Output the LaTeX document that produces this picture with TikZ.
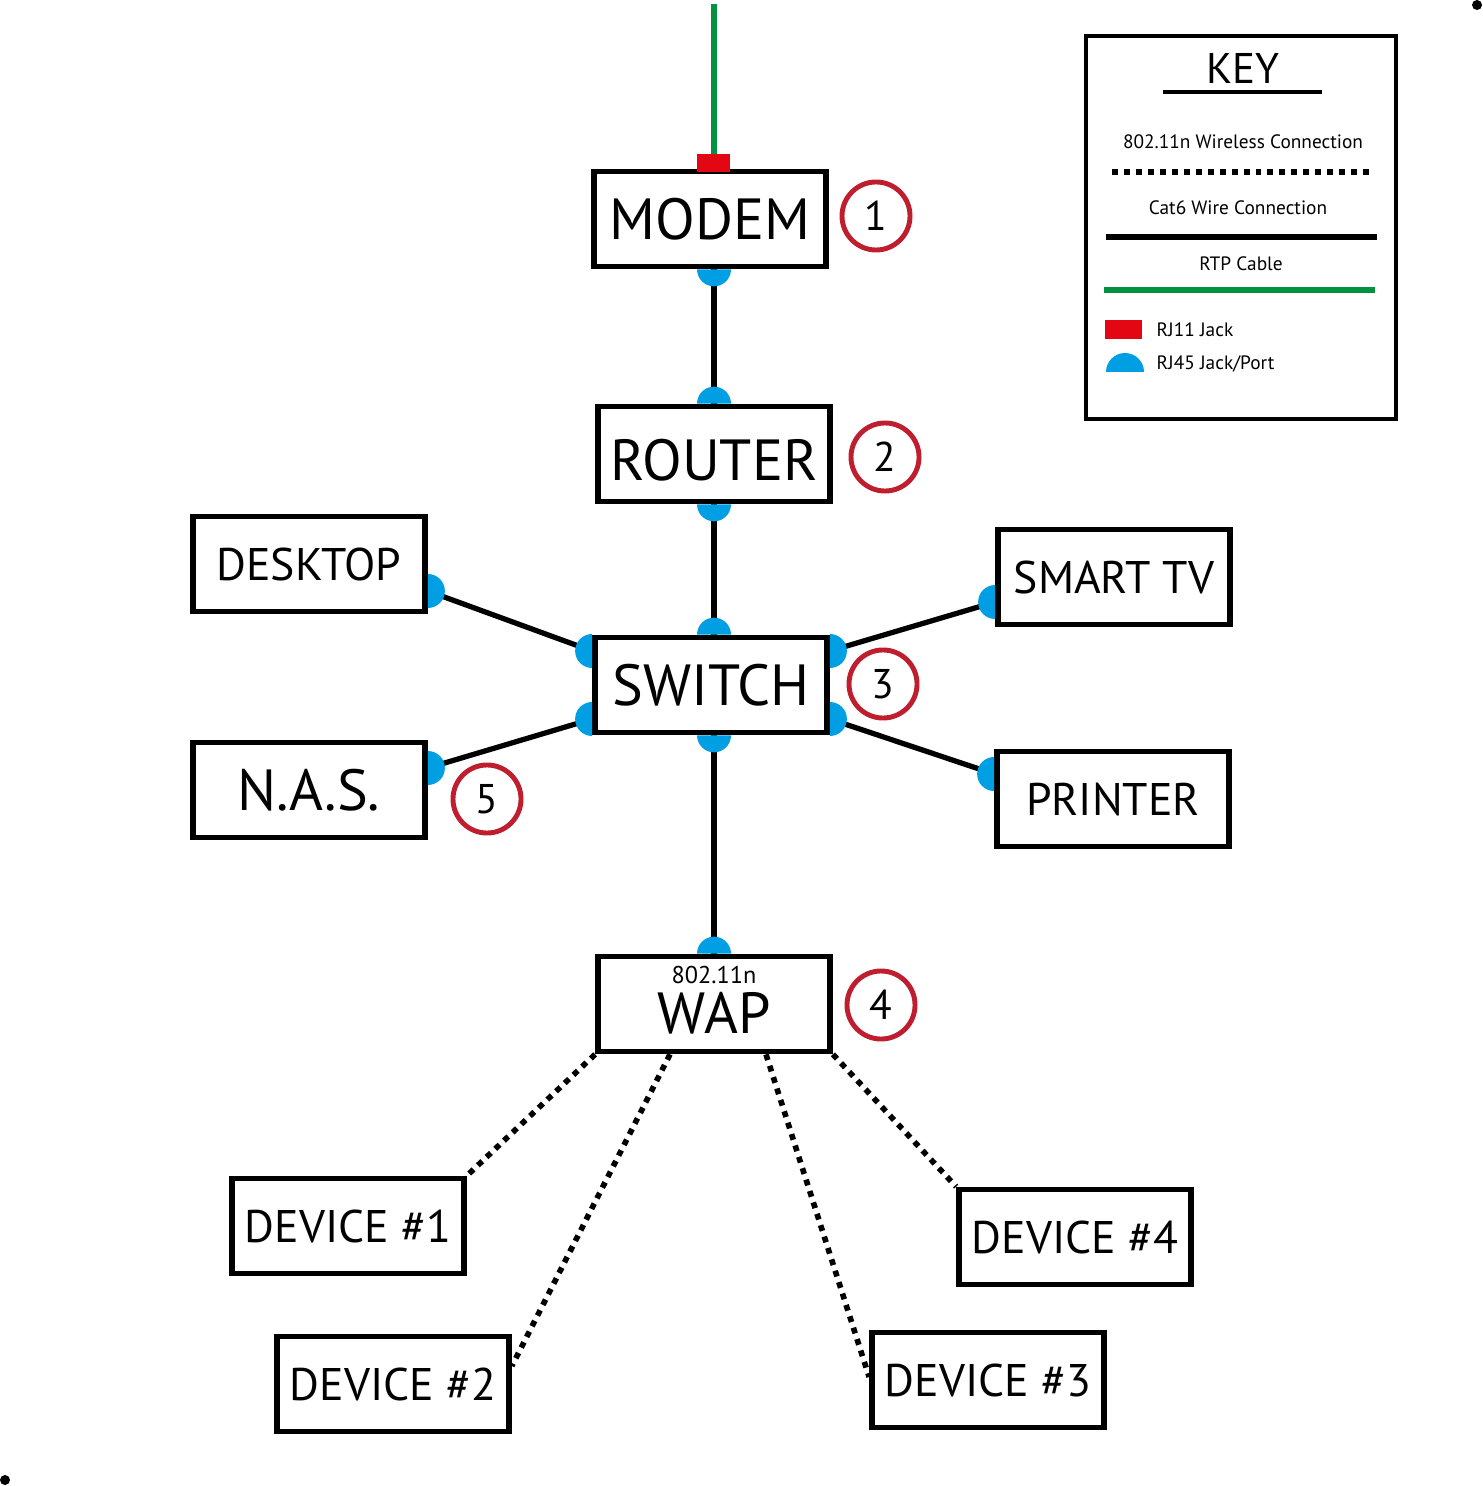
\documentclass[tikz,border=0pt]{standalone}
\usepackage{fontspec}
\setmainfont{PT Sans}
\usepackage{xcolor}
\usetikzlibrary{calc}
\definecolor{portblue}{RGB}{0,159,227}
\definecolor{jackred}{RGB}{227,6,19}
\definecolor{rtpgreen}{RGB}{0,146,63}
\definecolor{numred}{RGB}{190,30,45}
\newcommand{\rjport}[2]{\fill[portblue] (#1) ++(#2+90:17) arc[start angle=#2+90, end angle=#2-90, radius=17] -- cycle;}

\begin{document}
\begin{tikzpicture}[x=0.01cm, y=0.01cm,
    netbox/.style={draw, fill=white, line width=1.6pt, minimum width=2.32cm, minimum height=0.95cm, inner sep=0pt},
    bigtxt/.style={font=\fontsize{16.5}{18}\selectfont},
    midtxt/.style={font=\fontsize{13}{15}\selectfont},
    numcirc/.style={circle, draw=numred, line width=1.4pt, minimum size=0.68cm, inner sep=0pt, font=\fontsize{11.8}{13}\selectfont},
    cat6/.style={line width=1.5pt},
    wireless/.style={line width=1.6pt, dash pattern=on 1.7pt off 1.7pt},
    rtp/.style={rtpgreen, line width=1.5pt},
    keytxt/.style={font=\fontsize{5.5}{7}\selectfont}]
    \useasboundingbox (0,0) rectangle (1483,-1486);

    \node[netbox, bigtxt] (modem) at (710,-219) {MODEM};
    \node[netbox, bigtxt, text height=15pt, text depth=0pt] (router) at (714,-454) {ROUTER};
    \node[netbox, bigtxt] (switch) at (711,-685) {SWITCH};
    \node[netbox, midtxt] (desktop) at (309,-564) {DESKTOP};
    \node[netbox, bigtxt] (nas) at (309,-790) {N.A.S.};
    \node[netbox, midtxt] (smarttv) at (1114,-577) {SMART TV};
    \node[netbox, midtxt] (printer) at (1113,-799) {PRINTER};
    \node[netbox, bigtxt, align=center, text depth=2.3pt] (wap) at (714,-1004) {{\fontsize{6.9}{8}\selectfont 802.11n}\\[-3.6pt]WAP};
    \node[netbox, midtxt] (dev1) at (348,-1226) {DEVICE \#1};
    \node[netbox, midtxt] (dev2) at (393,-1384) {DEVICE \#2};
    \node[netbox, midtxt] (dev3) at (988,-1380) {DEVICE \#3};
    \node[netbox, midtxt] (dev4) at (1075,-1237) {DEVICE \#4};

    \node[numcirc] (num1) at (876,-216) {1};
    \node[numcirc] (num2) at (885,-457) {2};
    \node[numcirc] (num3) at (883,-684) {3};
    \node[numcirc] (num4) at (881,-1005) {4};
    \node[numcirc] (num5) at (487,-799) {5};

    \coordinate (line-in) at (714,-4);
    \coordinate (modem-p) at ($(modem.south)+(4,0)$);
    \coordinate (switch-n) at ($(switch.north)+(3,0)$);
    \coordinate (switch-s) at ($(switch.south)+(3,0)$);
    \coordinate (switch-wn) at ($(switch.west)+(0,34)$);
    \coordinate (switch-ws) at ($(switch.west)+(0,-34)$);
    \coordinate (switch-en) at ($(switch.east)+(0,34)$);
    \coordinate (switch-es) at ($(switch.east)+(0,-34)$);
    \coordinate (desktop-p) at ($(desktop.east)+(0,-27)$);
    \coordinate (nas-p) at ($(nas.east)+(0,22)$);
    \coordinate (smarttv-p) at ($(smarttv.west)+(0,-25)$);
    \coordinate (printer-p) at ($(printer.west)+(0,25)$);

    \draw[cat6] (modem-p) -- (router.north);
    \draw[cat6] (router.south) -- (switch-n);
    \draw[cat6] (switch-s) -- (wap.north);
    \draw[cat6] (desktop-p) -- (switch-wn);
    \draw[cat6] (nas-p) -- (switch-ws);
    \draw[cat6] (smarttv-p) -- (switch-en);
    \draw[cat6] (printer-p) -- (switch-es);
    \draw[rtp] (line-in) -- ($(modem.north)+(4,0)$);

    \draw[wireless] (wap.south west) -- (dev1.north east);
    \draw[wireless] ($(wap.south)+(-44,0)$) -- ($(dev2.east)+(0,18)$);
    \draw[wireless] ($(wap.south)+(52,0)$) -- ($(dev3.west)+(0,3)$);
    \draw[wireless] (wap.south east) -- (dev4.north west);

    \fill[jackred] ($(modem.north)+(-13,15)$) rectangle ($(modem.north)+(20,-3)$);
    \rjport{modem-p}{-90}
    \rjport{router.north}{90}
    \rjport{router.south}{-90}
    \rjport{switch-n}{90}
    \rjport{switch-s}{-90}
    \rjport{switch-wn}{180}
    \rjport{switch-ws}{180}
    \rjport{switch-en}{0}
    \rjport{switch-es}{0}
    \rjport{desktop-p}{0}
    \rjport{nas-p}{0}
    \rjport{smarttv-p}{180}
    \rjport{printer-p}{180}
    \rjport{wap.north}{90}

    \node[draw, line width=1.3pt, minimum width=3.10cm, minimum height=3.83cm] (key) at (1241,-227.5) {};
    \node[font=\fontsize{12.2}{14}\selectfont] (keytitle) at (1243,-68) {KEY};
    \draw[line width=1.1pt] (1163,-92) -- (1322,-92);
    \node[keytxt] (keywifi) at (1243,-142) {802.11n Wireless Connection};
    \draw[wireless] (1112,-172) -- (1373,-172);
    \node[keytxt] (keycat6) at (1238,-208) {Cat6 Wire Connection};
    \draw[cat6] (1106,-237) -- (1377,-237);
    \node[keytxt] (keyrtp) at (1241,-264) {RTP Cable};
    \draw[rtp] (1104,-290) -- (1375,-290);
    \fill[jackred] (1105,-320) rectangle (1142,-339);
    \node[keytxt, anchor=west, inner sep=0pt] (keyrj11) at (1156,-330) {RJ11 Jack};
    \fill[portblue] (1106,-372) arc[start angle=180, end angle=0, radius=19] -- cycle;
    \node[keytxt, anchor=west, inner sep=0pt] (keyrj45) at (1156,-364) {RJ45 Jack/Port};

    \fill (1477,-5) circle[radius=5];
    \fill (5,-1480) circle[radius=5];
\end{tikzpicture}
\end{document}
